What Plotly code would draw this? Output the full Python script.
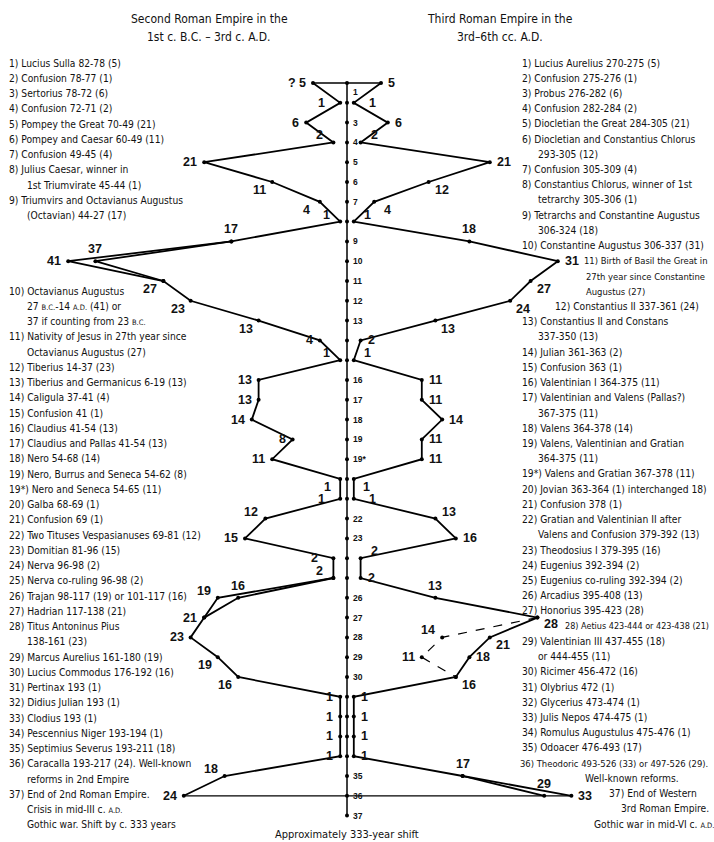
import plotly.graph_objects as go

# axis positions: items 1..19, then 19*, then 20..37
slots = [str(i) for i in range(1, 20)] + ["19*"] + [str(i) for i in range(20, 38)]
shown_ticks = ["1", "3", "4", "5", "6", "7", "9", "10", "11", "12", "13", "16", "17", "18",
               "19", "19*", "22", "23", "26", "27", "28", "29", "30", "35", "36", "37"]

# Second Roman Empire (left), durations in years for slots 1..36
left_vals = [5, 1, 6, 2, 21, 11, 4, 1, 17, 41, 27, 23, 13, 4, 1, 13, 13, 14, 8, 11,
             1, 1, 12, 15, 2, 2, 19, 21, 23, 19, 16, 1, 1, 1, 1, 18, 24]
left_alt1_slots = ["9", "10", "11"]
left_alt1_vals = [17, 37, 27]
left_alt2_slots = ["25", "26", "27"]
left_alt2_vals = [2, 16, 21]

# Third Roman Empire (right)
right_vals = [5, 1, 6, 2, 21, 12, 4, 1, 18, 31, 27, 24, 13, 2, 1, 11, 11, 14, 11, 11,
              1, 1, 13, 16, 2, 2, 13, 28, 21, 18, 16, 1, 1, 1, 1, 17, 33]
right_alt_slots = ["35", "36"]
right_alt_vals = [17, 29]
right_dash_slots = ["27", "28", "29", "30"]
right_dash_vals = [28, 14, 11, 16]

left_text_a = [
    (0, "1) Lucius Sulla 82-78 (5)"),
    (0, "2) Confusion 78-77 (1)"),
    (0, "3) Sertorius 78-72 (6)"),
    (0, "4) Confusion 72-71 (2)"),
    (0, "5) Pompey the Great 70-49 (21)"),
    (0, "6) Pompey and Caesar 60-49 (11)"),
    (0, "7) Confusion 49-45 (4)"),
    (0, "8) Julius Caesar, winner in"),
    (1, "1st Triumvirate 45-44 (1)"),
    (0, "9) Triumvirs and Octavianus Augustus"),
    (1, "(Octavian) 44-27 (17)"),
]
SC = "<span style='font-size:7.5px'>%s</span>"
left_text_b = [
    (0, "10) Octavianus Augustus"),
    (1, "27 " + SC % "B.C." + "-14 " + SC % "A.D." + " (41) or"),
    (1, "37 if counting from 23 " + SC % "B.C."),
    (0, "11) Nativity of Jesus in 27th year since"),
    (1, "Octavianus Augustus (27)"),
    (0, "12) Tiberius 14-37 (23)"),
    (0, "13) Tiberius and Germanicus 6-19 (13)"),
    (0, "14) Caligula 37-41 (4)"),
    (0, "15) Confusion 41 (1)"),
    (0, "16) Claudius 41-54 (13)"),
    (0, "17) Claudius and Pallas 41-54 (13)"),
    (0, "18) Nero 54-68 (14)"),
    (0, "19) Nero, Burrus and Seneca 54-62 (8)"),
    (0, "19*) Nero and Seneca 54-65 (11)"),
    (0, "20) Galba 68-69 (1)"),
    (0, "21) Confusion 69 (1)"),
    (0, "22) Two Tituses Vespasianuses 69-81 (12)"),
    (0, "23) Domitian 81-96 (15)"),
    (0, "24) Nerva 96-98 (2)"),
    (0, "25) Nerva co-ruling 96-98 (2)"),
    (0, "26) Trajan 98-117 (19) or 101-117 (16)"),
    (0, "27) Hadrian 117-138 (21)"),
    (0, "28) Titus Antoninus Pius"),
    (1, "138-161 (23)"),
    (0, "29) Marcus Aurelius 161-180 (19)"),
    (0, "30) Lucius Commodus 176-192 (16)"),
    (0, "31) Pertinax 193 (1)"),
    (0, "32) Didius Julian 193 (1)"),
    (0, "33) Clodius 193 (1)"),
    (0, "34) Pescennius Niger 193-194 (1)"),
    (0, "35) Septimius Severus 193-211 (18)"),
    (0, "36) Caracalla 193-217 (24). Well-known"),
    (1, "reforms in 2nd Empire"),
    (0, "37) End of 2nd Roman Empire."),
    (1, "Crisis in mid-III c. " + SC % "A.D."),
    (1, "Gothic war. Shift by c. 333 years"),
]
right_text = [
    (520, "1) Lucius Aurelius 270-275 (5)"),
    (520, "2) Confusion 275-276 (1)"),
    (520, "3) Probus 276-282 (6)"),
    (520, "4) Confusion 282-284 (2)"),
    (520, "5) Diocletian the Great 284-305 (21)"),
    (520, "6) Diocletian and Constantius Chlorus"),
    (536, "293-305 (12)"),
    (520, "7) Confusion 305-309 (4)"),
    (520, "8) Constantius Chlorus, winner of 1st"),
    (536, "tetrarchy 305-306 (1)"),
    (520, "9) Tetrarchs and Constantine Augustus"),
    (536, "306-324 (18)"),
    (520, "10) Constantine Augustus 306-337 (31)"),
    (582, "11) Birth of Basil the Great in"),
    (584, "27th year since Constantine"),
    (584, "Augustus (27)"),
    (553, "12) Constantius II 337-361 (24)"),
    (520, "13) Constantius II and Constans"),
    (536, "337-350 (13)"),
    (520, "14) Julian 361-363 (2)"),
    (520, "15) Confusion 363 (1)"),
    (520, "16) Valentinian I 364-375 (11)"),
    (520, "17) Valentinian and Valens (Pallas?)"),
    (536, "367-375 (11)"),
    (520, "18) Valens 364-378 (14)"),
    (520, "19) Valens, Valentinian and Gratian"),
    (536, "364-375 (11)"),
    (520, "19*) Valens and Gratian 367-378 (11)"),
    (520, "20) Jovian 363-364 (1) interchanged 18)"),
    (520, "21) Confusion 378 (1)"),
    (520, "22) Gratian and Valentinian II after"),
    (536, "Valens and Confusion 379-392 (13)"),
    (520, "23) Theodosius I 379-395 (16)"),
    (520, "24) Eugenius 392-394 (2)"),
    (520, "25) Eugenius co-ruling 392-394 (2)"),
    (520, "26) Arcadius 395-408 (13)"),
    (520, "27) Honorius 395-423 (28)"),
    (563, "28) Aetius 423-444 or 423-438 (21)"),
    (520, "29) Valentinian III 437-455 (18)"),
    (536, "or 444-455 (11)"),
    (520, "30) Ricimer 456-472 (16)"),
    (520, "31) Olybrius 472 (1)"),
    (520, "32) Glycerius 473-474 (1)"),
    (520, "33) Julis Nepos 474-475 (1)"),
    (520, "34) Romulus Augustulus 475-476 (1)"),
    (520, "35) Odoacer 476-493 (17)"),
    (518, "36) Theodoric 493-526 (33) or 497-526 (29)."),
    (583, "Well-known reforms."),
    (607, "37) End of Western"),
    (619, "3rd Roman Empire."),
    (592, "Gothic war in mid-VI c. " + SC % "A.D."),
]
# lines squeezed next to the curve's labels
right_tight = {13: 9.4, 14: 9.4, 15: 9.4, 37: 9.0, 46: 9.4}

# label placement per point
left_pos = ['l', 'll', 'l', 'ul', 'l', 'dl', 'dl', 'ul', 'a', 'l', 'dl', 'dl', 'dl', 'l', 'ul',
            'l', 'l', 'l', 'l', 'l', 'dl', 'll', 'ul', 'l', 'll', 'ul', 'ul', 'l', 'l', 'dl', 'dl',
            'l', 'l', 'l', 'l', 'ul', 'l']
right_pos = ['r', 'rr', 'r', 'ur', 'r', 'dr', 'dr', 'ur', 'a', 'r', 'dr', 'dr', 'dr', 'r', 'ur',
             'r', 'r', 'r', 'r', 'r', 'dr', 'rr', 'ur', 'r', 'ur', 'r', 'a', 'rd', 'dr', 'r', 'dr',
             'r', 'r', 'r', 'r', 'a', 'r']
POS = {
    'l': ('right', -5, 0), 'll': ('right', -13, 0), 'r': ('left', 5, 0), 'rr': ('left', 13, 0),
    'rd': ('left', 5, -6),
    'ul': ('center', -14, 7), 'dl': ('center', -13, -8), 'ur': ('center', 14, 7),
    'dr': ('center', 13, -8), 'a': ('center', 0, 12),
}

X0, SX = 347, 6.8
Y0, SY = 83, 19.8


def xd(px):
    return (px - X0) / SX


def yd(py):
    return (py - Y0) / SY


def sy(name):
    return slots.index(name)


NARROW = "Liberation Sans Narrow, Arial Narrow, DejaVu Sans Condensed, sans-serif"
LIST_FONT = dict(family=NARROW, size=10.2, color="#111")
NUM_FONT = dict(family="Liberation Sans, Arial, sans-serif", size=12.5, color="#111")

fig = go.Figure()
line = dict(color="black", width=1.8)
mk = dict(color="black", size=4)
n = len(left_vals)
ys = list(range(n))

# central axis
fig.add_trace(go.Scatter(x=[0] * len(slots), y=list(range(len(slots))), mode="lines+markers",
                         line=dict(color="black", width=1.5), marker=mk))
# top and bottom connecting lines
fig.add_trace(go.Scatter(x=[-left_vals[0], right_vals[0]], y=[0, 0], mode="lines",
                         line=dict(color="black", width=1.3)))
fig.add_trace(go.Scatter(x=[-left_vals[-1], right_vals[-1]], y=[n - 1, n - 1], mode="lines",
                         line=dict(color="black", width=1.3)))

fig.add_trace(go.Scatter(x=[-v for v in left_vals], y=ys, mode="lines+markers", line=line, marker=mk))
fig.add_trace(go.Scatter(x=[v for v in right_vals], y=ys, mode="lines+markers", line=line, marker=mk))
for s, v in [(left_alt1_slots, left_alt1_vals), (left_alt2_slots, left_alt2_vals)]:
    fig.add_trace(go.Scatter(x=[-a for a in v], y=[sy(k) for k in s], mode="lines+markers",
                             line=line, marker=mk))
fig.add_trace(go.Scatter(x=right_alt_vals, y=[sy(k) for k in right_alt_slots], mode="lines+markers",
                         line=line, marker=mk))
fig.add_trace(go.Scatter(x=right_dash_vals, y=[sy(k) for k in right_dash_slots], mode="lines+markers",
                         line=dict(color="black", width=1.2, dash="dash"), marker=mk))

ann = []


def num(x, y, text, code):
    xa, dx, dy = POS[code]
    ann.append(dict(x=x, y=y, text="<b>%s</b>" % text, showarrow=False, xanchor=xa,
                    yanchor="middle", xshift=dx, yshift=dy, font=NUM_FONT))


for i, v in enumerate(left_vals):
    num(-v, i, "? 5" if i == 0 else v, left_pos[i])
for i, v in enumerate(right_vals):
    num(v, i, v, right_pos[i])
num(-37, sy("10"), 37, 'a')
num(-16, sy("26"), 16, 'a')
num(29, sy("36"), 29, 'a')
num(14, sy("28"), 14, 'ul')
num(11, sy("29"), 11, 'l')

# axis tick labels
for name in shown_ticks:
    ann.append(dict(x=0, y=sy(name), text="<b>%s</b>" % name, showarrow=False, xanchor="left",
                    yanchor="middle", xshift=4, yshift=-9 if name == "1" else 0,
                    font=dict(family="Liberation Sans, Arial, sans-serif", size=8.5, color="#111")))

# side lists
LH = 15.25
for k, (ind, t) in enumerate(left_text_a):
    ann.append(dict(x=xd(25 if ind else 7), y=yd(63 + k * LH), text=t, showarrow=False,
                    xanchor="left", yanchor="middle", font=LIST_FONT))
for k, (ind, t) in enumerate(left_text_b):
    ann.append(dict(x=xd(25 if ind else 7), y=yd(291 + k * LH), text=t, showarrow=False,
                    xanchor="left", yanchor="middle", font=LIST_FONT))
for k, (px, t) in enumerate(right_text):
    f = dict(LIST_FONT, size=right_tight[k]) if k in right_tight else LIST_FONT
    ann.append(dict(x=xd(px), y=yd(63 + k * 15.22), text=t, showarrow=False,
                    xanchor="left", yanchor="middle", font=f))

TITLE_FONT = dict(family=NARROW, size=12, color="#111")
for cx, lines in [(209, ["Second Roman Empire in the", "1st c. B.C. – 3rd c. A.D."]),
                  (500, ["Third Roman Empire in the", "3rd–6th cc. A.D."])]:
    for j, t in enumerate(lines):
        ann.append(dict(x=xd(cx), y=yd(19 + 18 * j), text=t, showarrow=False, font=TITLE_FONT))
ann.append(dict(x=0, y=yd(834), text="Approximately 333-year shift", showarrow=False,
                font=dict(family=NARROW, size=11, color="#111")))

fig.update_layout(
    width=714, height=842, margin=dict(l=0, r=0, t=0, b=0),
    paper_bgcolor="white", plot_bgcolor="white", showlegend=False,
    xaxis=dict(range=[xd(0), xd(714)], visible=False, fixedrange=True),
    yaxis=dict(range=[yd(842), yd(0)], visible=False, fixedrange=True),
    annotations=ann,
)
fig.write_html("out.html", config={"displayModeBar": False},
               post_script="document.body.style.margin='0';")
